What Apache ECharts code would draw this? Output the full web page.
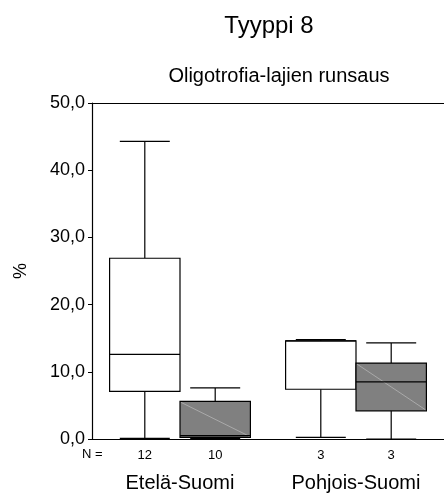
<!DOCTYPE html>
<html>
<head>
<meta charset="utf-8">
<script src="https://cdn.jsdelivr.net/npm/echarts@6/dist/echarts.min.js"></script>
<style>
html,body{margin:0;padding:0;background:#fff;}
#chart{width:444px;height:498px;}
</style>
</head>
<body>
<div id="chart"></div>
<script>
// ---- data ----
var categories = ['Etelä-Suomi', 'Pohjois-Suomi'];
var yTicks = [0, 10, 20, 30, 40, 50];
// [min, q1, median, q3, max]
var whiteBoxes = [
  [0.1, 7.1, 12.6, 26.9, 44.3],
  [0.25, 7.4, 14.6, 14.6, 14.8]
];
var grayBoxes = [
  [0.1, 0.25, 0.5, 5.6, 7.6],
  [0.0, 4.2, 8.5, 11.3, 14.3]
];
var whiteN = [12, 3];
var grayN = [10, 3];

var FONT = 'Liberation Sans';

function toData(boxes, counts) {
  return boxes.map(function (b, i) {
    return [i, b[0], b[1], b[2], b[3], b[4], counts[i]];
  });
}

function makeRender(side, fill, diag) {
  return function (params, api) {
    var cat = api.value(0);
    var band = api.size([1, 0])[0];
    var bw = band * 0.4;
    var cx = api.coord([cat, 0])[0] + side * band * 0.2;
    var yMin = api.coord([cat, api.value(1)])[1];
    var yQ1 = api.coord([cat, api.value(2)])[1];
    var yMed = api.coord([cat, api.value(3)])[1];
    var yQ3 = api.coord([cat, api.value(4)])[1];
    var yMax = api.coord([cat, api.value(5)])[1];
    var y0 = api.coord([cat, 0])[1];
    var cap = bw * 0.71;
    var ls = {stroke: '#000', lineWidth: 1.2};
    var children = [
      {type: 'line', shape: {x1: cx, y1: yQ3, x2: cx, y2: yMax}, style: ls},
      {type: 'line', shape: {x1: cx - cap / 2, y1: yMax, x2: cx + cap / 2, y2: yMax}, style: ls},
      {type: 'line', shape: {x1: cx, y1: yQ1, x2: cx, y2: yMin}, style: ls},
      {type: 'line', shape: {x1: cx - cap / 2, y1: yMin, x2: cx + cap / 2, y2: yMin}, style: ls},
      {type: 'rect', shape: {x: cx - bw / 2, y: yQ3, width: bw, height: yQ1 - yQ3},
        style: {fill: fill, stroke: '#000', lineWidth: 1.2}}
    ];
    if (diag) {
      children.push({type: 'line',
        shape: {x1: cx - bw / 2 + 1, y1: yQ3 + 1, x2: cx + bw / 2 - 1, y2: yQ1 - 1},
        style: {stroke: '#b4b4b4', lineWidth: 0.8}});
    }
    children.push({type: 'line', shape: {x1: cx - bw / 2, y1: yMed, x2: cx + bw / 2, y2: yMed}, style: ls});
    children.push({type: 'text', x: cx, y: y0 + 16,
      style: {text: String(api.value(6)), textAlign: 'center', textVerticalAlign: 'middle',
        fontSize: 13, fontFamily: FONT, fill: '#000'}});
    return {type: 'group', children: children};
  };
}

var chart = echarts.init(document.getElementById('chart'), null, {renderer: 'canvas'});
chart.setOption({
  animation: false,
  backgroundColor: '#fff',
  title: [
    {text: 'Tyyppi 8', left: 264, top: 9, textAlign: 'center',
      textStyle: {fontSize: 24, fontWeight: 'normal', fontFamily: FONT, color: '#000'}},
    {text: 'Oligotrofia-lajien runsaus', left: 274, top: 61, textAlign: 'center',
      textStyle: {fontSize: 20, fontWeight: 'normal', fontFamily: FONT, color: '#000'}}
  ],
  grid: {left: 92, right: 0, top: 103, bottom: 59, containLabel: false},
  xAxis: [
    {type: 'category', data: categories, position: 'bottom',
      axisLine: {lineStyle: {color: '#000', width: 1.2}},
      axisTick: {alignWithLabel: true, length: 4, lineStyle: {color: '#000'}},
      axisLabel: {margin: 34, fontSize: 20, fontFamily: FONT, color: '#000'},
      splitLine: {show: false}},
    {type: 'category', data: categories, position: 'top',
      axisLine: {lineStyle: {color: '#000', width: 1.2}},
      axisTick: {show: false}, axisLabel: {show: false}, splitLine: {show: false}}
  ],
  yAxis: {
    type: 'value', min: 0, max: 50, interval: 10,
    name: '%', nameLocation: 'middle', nameRotate: 90, nameGap: 62,
    nameTextStyle: {fontSize: 18, fontFamily: FONT, color: '#000'},
    axisLine: {show: true, lineStyle: {color: '#000', width: 1.2}},
    axisTick: {show: true, length: 4, lineStyle: {color: '#000'}},
    axisLabel: {margin: 7, fontSize: 18, fontFamily: FONT, color: '#000',
      formatter: function (v) { return v.toFixed(1).replace('.', ','); }},
    splitLine: {show: false}
  },
  graphic: [
    {type: 'text', left: 82, top: 448,
      style: {text: 'N =', fontSize: 13, fontFamily: FONT, fill: '#000'}}
  ],
  series: [
    {type: 'custom', name: 'white', xAxisIndex: 0, data: toData(whiteBoxes, whiteN),
      encode: {x: 0, y: [1, 2, 3, 4, 5]}, clip: false,
      renderItem: makeRender(-1, '#ffffff', false)},
    {type: 'custom', name: 'gray', xAxisIndex: 0, data: toData(grayBoxes, grayN),
      encode: {x: 0, y: [1, 2, 3, 4, 5]}, clip: false,
      renderItem: makeRender(1, '#808080', true)}
  ]
});
</script>
</body>
</html>
